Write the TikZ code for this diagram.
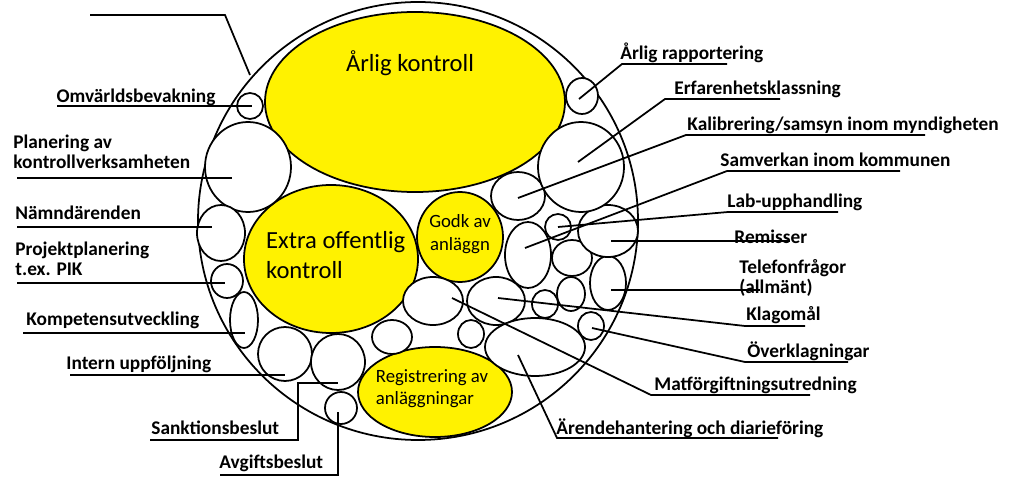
\documentclass[tikz,border=0pt]{standalone}
\usepackage{fontspec}
\setmainfont{Carlito}
\usetikzlibrary{positioning}

\tikzset{
  lbl/.style={font=\bfseries\fontsize{16.5}{17}\selectfont, inner sep=1pt, align=left},
  lead/.style={line width=1.5pt},
  yt/.style={font=\fontsize{21}{25}\selectfont, align=left},
  ys/.style={font=\fontsize{16}{19}\selectfont},
}
\newcommand{\blobat}[4]{\draw[line width=1.5pt, fill=#4] #1 ellipse ({#2} and {#3});}

\begin{document}
\begin{tikzpicture}[x=0.03cm, y=-0.03cm]
\useasboundingbox (0,0) rectangle (1023,481);

% outer circle
\draw[line width=1.5pt] (418,221) ellipse (220 and 219);

% yellow parts
\blobat{(415,102)}{150}{90}{yellow}
\blobat{(331,259)}{87}{74}{yellow}
\blobat{(460,237)}{43}{45}{yellow}
\blobat{(435,392)}{77}{45}{yellow}
\node[yt] (arlig) at (410,63) {Årlig kontroll};
\node[yt, anchor=west] (extra) at (262,255) {Extra offentlig\\kontroll};
\node[yt, ys, align=center] (godk) at (460,234) {Godk av\\anläggn};
\node[yt, ys, align=left] (reg) at (432,389) {Registrering av\\anläggningar};

% white parts
\blobat{(250,106)}{13}{13}{white}
\blobat{(248,167)}{43}{45}{white}
\blobat{(221,233)}{24}{28}{white}
\blobat{(227,281)}{16}{17}{white}
\blobat{(244,320)}{14}{28}{white}
\blobat{(285,354)}{27}{27}{white}
\blobat{(338,362)}{27}{28}{white}
\blobat{(341,408)}{16}{16}{white}
\blobat{(392,337)}{20}{17}{white}
\blobat{(433,301)}{30}{24}{white}
\blobat{(471,334)}{13}{14}{white}
\blobat{(496,301)}{29}{24}{white}
\blobat{(535,347)}{50}{29}{white}
\blobat{(545,304)}{13}{14}{white}
\blobat{(571,294)}{14}{17}{white}
\blobat{(591,326)}{13}{14}{white}
\blobat{(608,283)}{18}{27}{white}
\blobat{(572,258)}{20}{18}{white}
\blobat{(528,255)}{23}{33}{white}
\blobat{(558,227)}{13}{13}{white}
\blobat{(608,231)}{30}{26}{white}
\blobat{(518,196)}{27}{24}{white}
\blobat{(581,167)}{43}{45}{white}
\blobat{(582,96)}{16}{18}{white}

% left labels
\coordinate (top) at (90,15);
\node[lbl] (omv) at (136,97) {Omvärldsbevakning};
\node[lbl, anchor=west] (plan) at (12,152) {Planering av\\kontrollverksamheten};
\node[lbl, anchor=west] (namnd) at (14,213) {Nämndärenden};
\node[lbl, anchor=west] (proj) at (14,259) {Projektplanering\\t.ex. PIK};
\node[lbl, anchor=west] (komp) at (25,320) {Kompetensutveckling};
\node[lbl, anchor=west] (intern) at (65,364) {Intern uppföljning};
\node[lbl, anchor=west] (sankt) at (150,428) {Sanktionsbeslut};
\node[lbl, anchor=west] (avg) at (218,463) {Avgiftsbeslut};

\draw[lead] (top) -- (225,15) -- (250,75);
\draw[lead] (57,106) -- (252,106);
\draw[lead] (17,178) -- (232,178);
\draw[lead] (17,227) -- (212,227);
\draw[lead] (17,283) -- (225,283);
\draw[lead] (23,333) -- (245,333);
\draw[lead] (70,375) -- (285,375);
\draw[lead] (150,440) -- (298,440) -- (298,383) -- (338,383);
\draw[lead] (220,475) -- (338,475) -- (338,412);

% right labels
\node[lbl, anchor=west] (rapp) at (619,53) {Årlig rapportering};
\node[lbl, anchor=west] (erf) at (673,89) {Erfarenhetsklassning};
\node[lbl, anchor=west] (kal) at (686,125) {Kalibrering/samsyn inom myndigheten};
\node[lbl, anchor=west] (samv) at (719,160) {Samverkan inom kommunen};
\node[lbl, anchor=west] (lab) at (726,202) {Lab-upphandling};
\node[lbl, anchor=west] (rem) at (733,237) {Remisser};
\node[lbl, anchor=west] (tel) at (738,278) {Telefonfrågor\\(allmänt)};
\node[lbl, anchor=west] (klag) at (745,315) {Klagomål};
\node[lbl, anchor=west] (over) at (746,351) {Överklagningar};
\node[lbl, anchor=west] (mat) at (653,385) {Matförgiftningsutredning};
\node[lbl, anchor=west] (arende) at (555,428) {Ärendehantering och diarieföring};

\draw[lead] (727,64) -- (622,64) -- (579,99);
\draw[lead] (780,99) -- (665,99) -- (578,162);
\draw[lead] (925,135) -- (686,135) -- (518,198);
\draw[lead] (900,171) -- (727,171) -- (525,248);
\draw[lead] (838,212) -- (728,212) -- (558,227);
\draw[lead] (611,241) -- (790,241);
\draw[lead] (611,290) -- (760,290);
\draw[lead] (805,326) -- (745,326) -- (498,298);
\draw[lead] (848,362) -- (745,362) -- (592,328);
\draw[lead] (810,395) -- (651,395) -- (452,298);
\draw[lead] (778,438) -- (557,438) -- (518,355);
\end{tikzpicture}
\end{document}
